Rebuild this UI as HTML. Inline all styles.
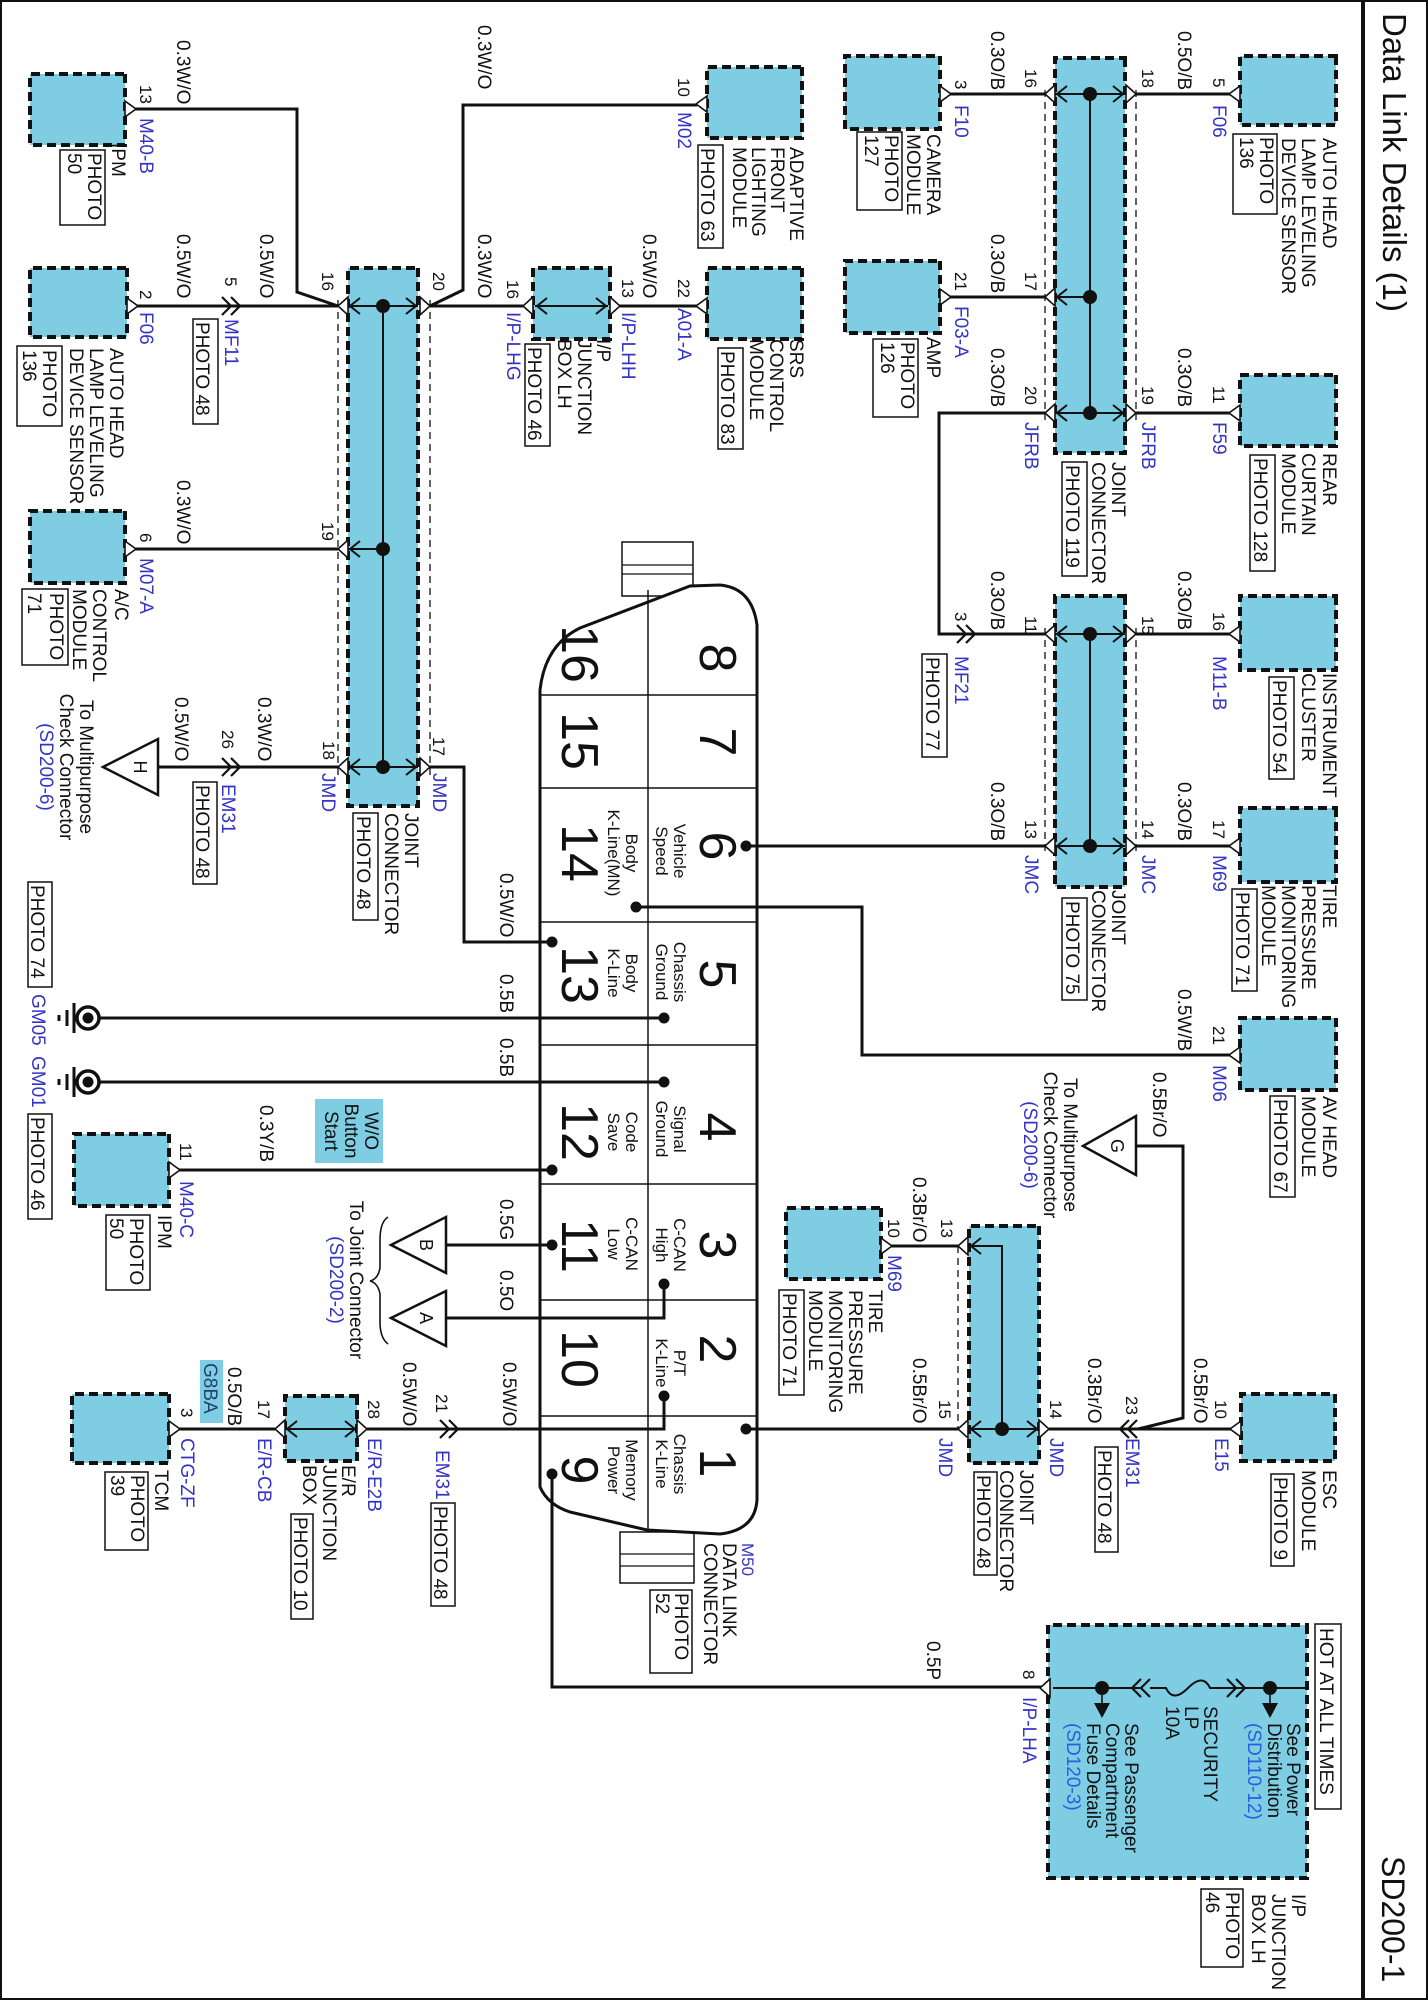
<!DOCTYPE html>
<html><head><meta charset="utf-8"><style>
html,body{margin:0;padding:0;background:#fff}
svg{display:block}
text{font-family:"Liberation Sans",Arial,sans-serif;font-size:19px;fill:#111}
.b{fill:#3434c4}
.lb{fill:#2a5de0}
.n{font-size:17px}
.d{font-size:52px;text-anchor:middle}
.c{font-size:17px;text-anchor:middle}
.m{text-anchor:middle}
.box{fill:#7fcde3;stroke:#111;stroke-width:4;stroke-dasharray:9,5}
.ph{fill:#fff;stroke:#111;stroke-width:1.5}
.w{fill:none;stroke:#111;stroke-width:3}
.t{fill:none;stroke:#111;stroke-width:1.6}
.dl{fill:none;stroke:#111;stroke-width:1.3;stroke-dasharray:7,5}
.pm{fill:#fff;stroke:#111;stroke-width:1.6}
</style></head><body>
<svg width="1428" height="2000" viewBox="0 0 1428 2000" xmlns="http://www.w3.org/2000/svg">
<rect x="1" y="1" width="1426" height="1998" fill="none" stroke="#111" stroke-width="2"/>
<line x1="1363" y1="0" x2="1363" y2="2000" stroke="#111" stroke-width="4"/>
<g transform="translate(1428,0) rotate(90)">
<text x="13" y="45" style="font-size:33px">Data Link Details (1)</text>
<text x="1856" y="46" style="font-size:32px">SD200-1</text>

<!-- data link connector (drawn first) -->
<rect x="542" y="735" width="54" height="71" fill="#fff" stroke="#111" stroke-width="1.5"/>
<line class="t" x1="565" y1="735" x2="565" y2="806" style="stroke-width:1.3"/><line class="t" x1="574" y1="735" x2="574" y2="806" style="stroke-width:1.3"/>
<rect x="1532" y="734" width="51" height="74" fill="#fff" stroke="#111" stroke-width="1.5"/>
<line class="t" x1="1554" y1="734" x2="1554" y2="808" style="stroke-width:1.3"/><line class="t" x1="1566" y1="734" x2="1566" y2="808" style="stroke-width:1.3"/>
<path d="M690,888 L1487,888 Q1505,880 1512,858 L1530,781 L1534,708 Q1530,673 1500,671 L625,671 Q588,676 585,708 L586,738 L628,848 Q645,883 690,888 Z" fill="#fff" stroke="#111" stroke-width="3"/>
<g class="t" style="stroke-width:1.5">
<line x1="590" y1="780" x2="1532" y2="780"/>
<line x1="695" y1="671" x2="695" y2="888"/><line x1="788" y1="671" x2="788" y2="888"/>
<line x1="922" y1="671" x2="922" y2="888"/><line x1="1045" y1="671" x2="1045" y2="888"/>
<line x1="1184" y1="671" x2="1184" y2="888"/><line x1="1300" y1="671" x2="1300" y2="888"/>
<line x1="1416" y1="671" x2="1416" y2="888"/>
</g>
<g>
<text class="d" x="658" y="728">8</text><text class="d" x="742" y="728">7</text><text class="d" x="846" y="728">6</text><text class="d" x="974" y="728">5</text>
<text class="d" x="1127" y="728">4</text><text class="d" x="1245" y="728">3</text><text class="d" x="1349" y="728">2</text><text class="d" x="1463" y="728">1</text>
<text class="d" x="654" y="866">16</text><text class="d" x="741" y="866">15</text><text class="d" x="853" y="866">14</text><text class="d" x="975" y="866">13</text>
<text class="d" x="1132" y="866">12</text><text class="d" x="1246" y="866">11</text><text class="d" x="1359" y="866">10</text><text class="d" x="1470" y="866">9</text>
<text class="c" x="851" y="754">Vehicle</text><text class="c" x="851" y="772">Speed</text>
<text class="c" x="972" y="754">Chassis</text><text class="c" x="972" y="772">Ground</text>
<text class="c" x="1129" y="754">Signal</text><text class="c" x="1129" y="772">Ground</text>
<text class="c" x="1245" y="754">C-CAN</text><text class="c" x="1245" y="772">High</text>
<text class="c" x="1363" y="754">P/T</text><text class="c" x="1363" y="772">K-Line</text>
<text class="c" x="1464" y="754">Chassis</text><text class="c" x="1464" y="772">K-Line</text>
<text class="c" x="853" y="802">Body</text><text class="c" x="853" y="820">K-Line(MN)</text>
<text class="c" x="973" y="802">Body</text><text class="c" x="973" y="820">K-Line</text>
<text class="c" x="1132" y="802">Code</text><text class="c" x="1132" y="820">Save</text>
<text class="c" x="1244" y="802">C-CAN</text><text class="c" x="1244" y="820">Low</text>
<text class="c" x="1470" y="802">Memory</text><text class="c" x="1470" y="820">Power</text>
</g>

<!-- module boxes -->
<rect class="box" x="74" y="1303" width="71" height="95"/>
<rect class="box" x="268" y="1301" width="69" height="97"/>
<rect class="box" x="511" y="1303" width="72" height="95"/>
<rect class="box" x="67" y="626" width="71" height="95"/>
<rect class="box" x="268" y="626" width="71" height="95"/>
<rect class="box" x="268" y="818" width="71" height="77"/>
<rect class="box" x="56" y="488" width="73" height="95"/>
<rect class="box" x="261" y="488" width="72" height="95"/>
<rect class="box" x="56" y="92" width="69" height="96"/>
<rect class="box" x="375" y="92" width="71" height="96"/>
<rect class="box" x="596" y="92" width="74" height="96"/>
<rect class="box" x="808" y="92" width="74" height="96"/>
<rect class="box" x="1018" y="92" width="72" height="96"/>
<rect class="box" x="1394" y="93" width="67" height="94"/>
<rect class="box" x="1208" y="547" width="71" height="95"/>
<rect class="box" x="1134" y="1259" width="72" height="95"/>
<rect class="box" x="1394" y="1259" width="69" height="97"/>
<rect class="box" x="1396" y="1071" width="65" height="72"/>
<rect class="box" x="1625" y="121" width="253" height="259"/>
<rect class="box" x="268" y="1010" width="538" height="70"/>
<rect class="box" x="58" y="303" width="395" height="70"/>
<rect class="box" x="596" y="303" width="291" height="70"/>
<rect class="box" x="1226" y="389" width="237" height="70"/>
<rect x="1099" y="1045" width="64" height="68" fill="#7fcde3"/>
<rect x="1360" y="1205" width="63" height="23" fill="#7fcde3"/>

<line class="dl" x1="300" y1="1090" x2="775" y2="1090"/>
<line class="dl" x1="300" y1="998" x2="775" y2="998"/>
<line class="dl" x1="90" y1="383" x2="420" y2="383"/>
<line class="dl" x1="90" y1="292" x2="420" y2="292"/>
<line class="dl" x1="628" y1="383" x2="852" y2="383"/>
<line class="dl" x1="628" y1="292" x2="852" y2="292"/>
<line class="dl" x1="1246" y1="470" x2="1429" y2="470"/>

<!-- wires -->
<polyline class="w" points="109,1293 109,1131 292,1131 306,1090"/>
<polyline class="w" points="306,1293 306,1090"/>
<polyline class="w" points="549,1293 549,1090"/>
<polyline class="w" points="306,998 290,965 105,965 105,731"/>
<polyline class="w" points="306,998 306,905"/>
<polyline class="w" points="306,808 306,731"/>
<polyline class="w" points="94,478 94,383"/>
<polyline class="w" points="297,478 297,383"/>
<polyline class="w" points="413,383 413,489 634,489 634,383"/>
<polyline class="w" points="94,292 94,198"/>
<polyline class="w" points="413,292 413,198"/>
<polyline class="w" points="634,292 634,198"/>
<polyline class="w" points="846,682 846,383"/>
<polyline class="w" points="846,292 846,198"/>
<polyline class="w" points="907,792 907,566 1055,566 1055,198"/>
<polyline class="w" points="1146,292 1146,245 1418,245 1429,290"/>
<polyline class="w" points="1429,197 1429,379"/>
<polyline class="w" points="1246,537 1246,470"/>
<polyline class="w" points="1429,682 1429,470"/>
<polyline class="w" points="767,998 767,964 942,964 942,876"/>
<polyline class="w" points="767,1270 767,1090"/>
<polyline class="w" points="1018,1340 1018,764"/>
<polyline class="w" points="1082,1340 1082,764"/>
<polyline class="w" points="1170,1249 1170,876"/>
<polyline class="w" points="1245,982 1245,876"/>
<polyline class="w" points="1318,982 1318,764 1284,764"/>
<polyline class="w" points="1396,764 1429,764 1429,1061"/>
<polyline class="w" points="1429,1153 1429,1249"/>
<polyline class="w" points="1474,876 1687,876 1687,385"/>

<g class="t" style="stroke-width:2">
<line x1="306" y1="1080" x2="306" y2="1010"/><line x1="549" y1="1080" x2="549" y2="1045"/><line x1="767" y1="1080" x2="767" y2="1010"/>
<line x1="306" y1="1045" x2="767" y2="1045"/>
<line x1="94" y1="373" x2="94" y2="303"/><line x1="297" y1="373" x2="297" y2="338"/><line x1="413" y1="373" x2="413" y2="303"/>
<line x1="94" y1="338" x2="413" y2="338"/>
<line x1="634" y1="373" x2="634" y2="303"/><line x1="846" y1="373" x2="846" y2="303"/>
<line x1="634" y1="338" x2="846" y2="338"/>
<polyline points="1246,459 1246,426 1429,426"/><line x1="1429" y1="459" x2="1429" y2="389"/>
<line x1="306" y1="893" x2="306" y2="820"/>
<line x1="1429" y1="1141" x2="1429" y2="1073"/>
<polyline points="298,1068 306,1078 314,1068"/><polyline points="298,1022 306,1012 314,1022"/>
<polyline points="541,1068 549,1078 557,1068"/>
<polyline points="759,1068 767,1078 775,1068"/><polyline points="759,1022 767,1012 775,1022"/>
<polyline points="86,361 94,371 102,361"/><polyline points="86,315 94,305 102,315"/>
<polyline points="289,361 297,371 305,361"/>
<polyline points="405,361 413,371 421,361"/><polyline points="405,315 413,305 421,315"/>
<polyline points="626,361 634,371 642,361"/><polyline points="626,315 634,305 642,315"/>
<polyline points="838,361 846,371 854,361"/><polyline points="838,315 846,305 854,315"/>
<polyline points="1238,447 1246,457 1254,447"/>
<polyline points="1421,447 1429,457 1437,447"/><polyline points="1421,401 1429,391 1437,401"/>
<polyline points="298,881 306,891 314,881"/><polyline points="298,832 306,822 314,832"/>
<polyline points="1421,1131 1429,1141 1437,1131"/><polyline points="1421,1083 1429,1073 1437,1083"/>
</g>

<g class="pm">
<polygon points="297,1080 306,1090 315,1080"/><polygon points="540,1080 549,1090 558,1080"/><polygon points="758,1080 767,1090 776,1080"/>
<polygon points="297,1008 306,998 315,1008"/><polygon points="758,1008 767,998 776,1008"/>
<polygon points="85,373 94,383 103,373"/><polygon points="288,373 297,383 306,373"/><polygon points="404,373 413,383 422,373"/>
<polygon points="85,302 94,292 103,302"/><polygon points="404,302 413,292 422,302"/>
<polygon points="625,373 634,383 643,373"/><polygon points="837,373 846,383 855,373"/>
<polygon points="625,302 634,292 643,302"/><polygon points="837,302 846,292 855,302"/>
<polygon points="1237,460 1246,470 1255,460"/><polygon points="1420,460 1429,470 1438,460"/>
<polygon points="1420,389 1429,379 1438,389"/>
<polygon points="297,895 306,905 315,895"/><polygon points="297,818 306,808 315,818"/>
<polygon points="1420,1143 1429,1153 1438,1143"/><polygon points="1420,1071 1429,1061 1438,1071"/>
<polygon points="1679,378 1688,388 1697,378"/>
<polygon points="101,1303 109,1292 117,1303"/>
<polygon points="298,1301 306,1290 314,1301"/>
<polygon points="541,1303 549,1292 557,1303"/>
<polygon points="96,721 104,732 112,721"/>
<polygon points="298,721 306,732 314,721"/>
<polygon points="86,488 94,477 102,488"/>
<polygon points="289,488 297,477 305,488"/>
<polygon points="86,188 94,199 102,188"/>
<polygon points="405,188 413,199 421,188"/>
<polygon points="626,188 634,199 642,188"/>
<polygon points="838,188 846,199 854,188"/>
<polygon points="1047,188 1055,199 1063,188"/>
<polygon points="1421,187 1429,198 1437,187"/>
<polygon points="1238,547 1246,536 1254,547"/>
<polygon points="1162,1259 1170,1248 1178,1259"/>
<polygon points="1421,1259 1429,1248 1437,1259"/>
</g>

<g class="t" style="stroke-width:2.2">
<polyline points="297,1206 306,1197 315,1206"/><polyline points="297,1197 306,1188 315,1197"/>
<polyline points="758,1206 767,1197 776,1206"/><polyline points="758,1197 767,1188 776,1197"/>
<polyline points="625,471 634,462 643,471"/><polyline points="625,462 634,453 643,462"/>
<polyline points="1420,988 1429,979 1438,988"/><polyline points="1420,979 1429,970 1438,979"/>
<polyline points="1420,299 1429,308 1438,299"/><polyline points="1420,291 1429,300 1438,291"/>
<polyline points="1679,287 1688,296 1697,287"/><polyline points="1679,278 1688,287 1697,278"/>
<polyline points="1679,192 1688,183 1697,192"/><polyline points="1679,201 1688,192 1697,201"/>
</g>
<polyline class="t" style="stroke-width:2" points="1688,375 1688,287"/>
<polyline class="t" style="stroke-width:2" points="1688,192 1688,121"/>
<path class="t" style="stroke-width:2" d="M1688,278 L1688,262 Q1703,255 1688,240 Q1673,225 1688,218 L1688,192"/>
<line class="t" x1="1688" y1="326" x2="1706" y2="326"/><line class="t" x1="1688" y1="158" x2="1706" y2="158"/>
<polygon points="1718,326 1703,318 1703,334" fill="#111"/>
<polygon points="1718,158 1703,150 1703,166" fill="#111"/>

<g fill="#111">
<circle cx="907" cy="792" r="5.5"/><circle cx="942" cy="876" r="5.5"/><circle cx="1018" cy="764" r="5.5"/><circle cx="1082" cy="764" r="5.5"/>
<circle cx="1170" cy="876" r="5.5"/><circle cx="1245" cy="876" r="5.5"/><circle cx="1284" cy="764" r="5.5"/><circle cx="1396" cy="764" r="5.5"/>
<circle cx="1474" cy="876" r="5.5"/><circle cx="846" cy="682" r="5.5"/><circle cx="1429" cy="682" r="5.5"/>
<circle cx="306" cy="1045" r="7"/><circle cx="549" cy="1045" r="7"/><circle cx="767" cy="1045" r="7"/>
<circle cx="94" cy="338" r="7"/><circle cx="297" cy="338" r="7"/><circle cx="413" cy="338" r="7"/>
<circle cx="634" cy="338" r="7"/><circle cx="846" cy="338" r="7"/><circle cx="1429" cy="426" r="7"/>
<circle cx="1688" cy="326" r="7"/><circle cx="1688" cy="158" r="7"/>
</g>

<g fill="#fff" stroke="#111" stroke-width="2.5">
<polygon points="767,1325 739,1270 795,1270"/>
<polygon points="1245,1037 1217,982 1273,982"/>
<polygon points="1318,1037 1291,982 1346,982"/>
<polygon points="1146,345 1116,292 1175,292"/>
</g>
<text class="m" x="767" y="1294" style="font-size:18px">H</text>
<text class="m" x="1245" y="1008" style="font-size:18px">B</text>
<text class="m" x="1318" y="1008" style="font-size:18px">A</text>
<text class="m" x="1146" y="317" style="font-size:18px">G</text>
<path class="t" style="stroke-width:1.6" d="M1217,1040 Q1222,1048 1240,1048 L1268,1048 Q1279,1050 1281,1058 Q1283,1050 1294,1048 L1322,1048 Q1338,1048 1344,1040"/>

<g>
<circle cx="1018" cy="1340" r="11" fill="#fff" stroke="#111" stroke-width="3.5"/><circle cx="1018" cy="1340" r="5.5" fill="#111"/>
<line class="w" x1="1018" y1="1351" x2="1018" y2="1354"/>
<line class="w" x1="1003" y1="1354" x2="1033" y2="1354"/><line class="w" x1="1010" y1="1361" x2="1026" y2="1361"/><line class="w" x1="1015" y1="1369" x2="1021" y2="1369"/>
<circle cx="1082" cy="1340" r="11" fill="#fff" stroke="#111" stroke-width="3.5"/><circle cx="1082" cy="1340" r="5.5" fill="#111"/>
<line class="w" x1="1082" y1="1351" x2="1082" y2="1354"/>
<line class="w" x1="1067" y1="1354" x2="1097" y2="1354"/><line class="w" x1="1074" y1="1361" x2="1090" y2="1361"/><line class="w" x1="1079" y1="1369" x2="1085" y2="1369"/>
</g>

<g class="ph">
<rect x="150" y="1323" width="75" height="45"/>
<rect x="319" y="1210" width="105" height="25"/>
<rect x="346" y="1366" width="80" height="45"/>
<rect x="589" y="1360" width="76" height="46"/>
<rect x="145" y="705" width="103" height="25"/>
<rect x="348" y="685" width="101" height="25"/>
<rect x="344" y="878" width="102" height="25"/>
<rect x="132" y="526" width="78" height="45"/>
<rect x="339" y="510" width="78" height="45"/>
<rect x="134" y="151" width="80" height="44"/>
<rect x="455" y="153" width="116" height="25"/>
<rect x="462" y="341" width="114" height="25"/>
<rect x="654" y="481" width="103" height="25"/>
<rect x="677" y="134" width="102" height="25"/>
<rect x="889" y="171" width="102" height="25"/>
<rect x="898" y="341" width="102" height="25"/>
<rect x="1096" y="133" width="101" height="25"/>
<rect x="1290" y="624" width="105" height="25"/>
<rect x="1447" y="310" width="105" height="23"/>
<rect x="1474" y="134" width="92" height="23"/>
<rect x="1472" y="431" width="103" height="23"/>
<rect x="1624" y="87" width="185" height="26"/>
<rect x="1889" y="185" width="78" height="42"/>
<rect x="1590" y="736" width="83" height="42"/>
<rect x="782" y="1211" width="102" height="24"/>
<rect x="813" y="1050" width="107" height="25"/>
<rect x="882" y="1376" width="105" height="24"/>
<rect x="1114" y="1376" width="105" height="24"/>
<rect x="1215" y="1278" width="75" height="44"/>
<rect x="1503" y="973" width="103" height="24"/>
<rect x="1514" y="1115" width="105" height="22"/>
<rect x="1472" y="1280" width="78" height="43"/>
</g>

<text x="40" y="1251">0.3W/O</text>
<text class="n" x="85" y="1288">13</text><text class="b" x="118" y="1288">M40-B</text>
<text x="143" y="1316">IPM</text>
<text x="153" y="1340">PHOTO</text><text x="153" y="1360">50</text>
<text x="234" y="1251">0.5W/O</text><text x="234" y="1168">0.5W/O</text>
<text class="n" x="290" y="1288">2</text><text class="b" x="312" y="1288">F06</text>
<text class="n" x="277" y="1203">5</text><text class="b" x="319" y="1203">MF11</text>
<text x="322" y="1232">PHOTO 48</text>
<text class="n" x="272" y="1106">16</text><text class="n" x="272" y="995">20</text>
<text x="348" y="1318">AUTO HEAD</text><text x="348" y="1338">LAMP LEVELING</text><text x="348" y="1358">DEVICE SENSOR</text>
<text x="350" y="1385">PHOTO</text><text x="350" y="1405">136</text>
<text x="480" y="1251">0.3W/O</text>
<text class="n" x="533" y="1288">6</text><text class="b" x="558" y="1288">M07-A</text>
<text class="n" x="522" y="1106">19</text>
<text x="589" y="1313">A/C</text><text x="589" y="1335">CONTROL</text><text x="589" y="1355">MODULE</text>
<text x="593" y="1378">PHOTO</text><text x="593" y="1400">71</text>

<text x="25" y="950">0.3W/O</text><text x="234" y="950">0.3W/O</text>
<text class="n" x="78" y="750">10</text><text class="b" x="112" y="750">M02</text>
<text x="147" y="638">ADAPTIVE</text><text x="147" y="657">FRONT</text><text x="147" y="676">LIGHTING</text><text x="147" y="695">MODULE</text>
<text x="148" y="727">PHOTO 63</text>
<text class="n" x="279" y="750">22</text><text class="b" x="308" y="750">A01-A</text>
<text x="234" y="785">0.5W/O</text>
<text x="339" y="638">SRS</text><text x="339" y="658">CONTROL</text><text x="339" y="678">MODULE</text>
<text x="351" y="707">PHOTO 83</text>
<text class="n" x="279" y="806">13</text><text class="b" x="312" y="806">I/P-LHH</text>
<text class="n" x="280" y="921">16</text><text class="b" x="312" y="921">I/P-LHG</text>
<text x="339" y="831">I/P</text><text x="339" y="850">JUNCTION</text><text x="339" y="870">BOX LH</text>
<text x="347" y="900">PHOTO 46</text>

<text class="n" x="80" y="473">3</text><text class="b" x="105" y="473">F10</text>
<text x="31" y="437">0.3O/B</text><text class="n" x="69" y="403">16</text>
<text x="134" y="501">CAMERA</text><text x="134" y="521">MODULE</text>
<text x="135" y="543">PHOTO</text><text x="135" y="563">127</text>
<text class="n" x="272" y="473">21</text><text class="b" x="306" y="473">F03-A</text>
<text x="234" y="437">0.3O/B</text><text class="n" x="272" y="403">17</text>
<text x="337" y="501">AMP</text>
<text x="342" y="527">PHOTO</text><text x="342" y="547">126</text>
<text x="348" y="437">0.3O/B</text><text class="n" x="386" y="403">20</text><text class="b" x="422" y="403">JFRB</text>
<text class="n" x="69" y="286">18</text><text x="31" y="250">0.5O/B</text>
<text class="n" x="78" y="215">5</text><text class="b" x="105" y="215">F06</text>
<text x="138" y="105">AUTO HEAD</text><text x="138" y="126">LAMP LEVELING</text><text x="138" y="146">DEVICE SENSOR</text>
<text x="137" y="168">PHOTO</text><text x="137" y="188">136</text>
<text class="n" x="386" y="286">19</text><text class="b" x="422" y="286">JFRB</text>
<text x="348" y="250">0.3O/B</text>
<text class="n" x="386" y="215">11</text><text class="b" x="422" y="215">F59</text>
<text x="453" y="105">REAR</text><text x="453" y="126">CURTAIN</text><text x="453" y="146">MODULE</text>
<text x="458" y="174">PHOTO 128</text>
<text x="462" y="316">JOINT</text><text x="462" y="336">CONNECTOR</text>
<text x="465" y="362">PHOTO 119</text>
<text class="n" x="616" y="403">11</text><text x="571" y="437">0.3O/B</text>
<text class="n" x="612" y="473">3</text><text class="b" x="656" y="473">MF21</text>
<text x="657" y="502">PHOTO 77</text>
<text class="n" x="616" y="286">15</text><text x="571" y="250">0.3O/B</text>
<text class="n" x="612" y="215">16</text><text class="b" x="656" y="215">M11-B</text>
<text x="673" y="105">INSTRUMENT</text><text x="673" y="126">CLUSTER</text>
<text x="680" y="155">PHOTO 54</text>
<text class="n" x="820" y="403">13</text><text class="b" x="855" y="403">JMC</text><text x="782" y="437">0.3O/B</text>
<text class="n" x="820" y="286">14</text><text class="b" x="855" y="286">JMC</text><text x="782" y="250">0.3O/B</text>
<text class="n" x="820" y="215">17</text><text class="b" x="855" y="215">M69</text>
<text x="885" y="105">TIRE</text><text x="885" y="126">PRESSURE</text><text x="885" y="146">MONITORING</text><text x="885" y="166">MODULE</text>
<text x="892" y="192">PHOTO 71</text>
<text x="890" y="316">JOINT</text><text x="890" y="336">CONNECTOR</text>
<text x="901" y="362">PHOTO 75</text>
<text x="989" y="250">0.5W/B</text>
<text class="n" x="1026" y="215">21</text><text class="b" x="1065" y="215">M06</text>
<text x="1096" y="105">AV HEAD</text><text x="1096" y="126">MODULE</text>
<text x="1099" y="154">PHOTO 67</text>
<text x="1072" y="275">0.5Br/O</text>
<text class="m" x="1145" y="364">To Multipurpose</text><text class="m" x="1145" y="384">Check Connector</text><text class="m b" x="1145" y="404">(SD200-6)</text>
<text x="1177" y="515">0.3Br/O</text>
<text class="n" x="1219" y="540">10</text><text class="b" x="1255" y="540">M69</text>
<text class="n" x="1219" y="487">13</text>
<text x="1290" y="559">TIRE</text><text x="1290" y="579">PRESSURE</text><text x="1290" y="599">MONITORING</text><text x="1290" y="619">MODULE</text>
<text x="1293" y="645">PHOTO 71</text>
<text x="1358" y="515">0.5Br/O</text>
<text class="n" x="1400" y="489">15</text><text class="b" x="1438" y="489">JMD</text>
<text class="n" x="1400" y="378">14</text><text class="b" x="1438" y="378">JMD</text>
<text x="1358" y="340">0.3Br/O</text>
<text class="n" x="1396" y="302">23</text><text class="b" x="1438" y="302">EM31</text>
<text x="1450" y="330">PHOTO 48</text>
<text x="1358" y="234">0.5Br/O</text>
<text class="n" x="1400" y="213">10</text><text class="b" x="1438" y="213">E15</text>
<text x="1470" y="105">ESC</text><text x="1470" y="126">MODULE</text>
<text x="1477" y="154">PHOTO 9</text>
<text x="1470" y="408">JOINT</text><text x="1470" y="428">CONNECTOR</text>
<text x="1475" y="451">PHOTO 48</text>
<text x="1628" y="108">HOT AT ALL TIMES</text>
<text x="1641" y="501">0.5P</text>
<text class="n" x="1670" y="405">8</text><text class="b" x="1697" y="405">I/P-LHA</text>
<text x="1723" y="141">See Power</text><text x="1723" y="160">Distribution</text><text class="lb" x="1723" y="180">(SD110-12)</text>
<text x="1706" y="224">SECURITY</text><text x="1706" y="243">LP</text><text x="1706" y="262">10A</text>
<text x="1723" y="303">See Passenger</text><text x="1723" y="322">Compartment</text><text x="1723" y="341">Fuse Details</text><text class="lb" x="1723" y="361">(SD120-3)</text>
<text x="1894" y="136">I/P</text><text x="1894" y="156">JUNCTION</text><text x="1894" y="176">BOX LH</text>
<text x="1892" y="202">PHOTO</text><text x="1892" y="222">46</text>
<text class="b" x="1543" y="686" style="font-size:17px">M50</text><text x="1543" y="705">DATA LINK</text><text x="1543" y="724">CONNECTOR</text>
<text x="1593" y="753">PHOTO</text><text x="1593" y="772">52</text>

<text x="697" y="1170">0.3W/O</text><text x="697" y="1253">0.5W/O</text>
<text class="n" x="730" y="1206">26</text><text class="b" x="784" y="1206">EM31</text>
<text x="785" y="1232">PHOTO 48</text>
<text class="n" x="741" y="1105">18</text><text class="b" x="773" y="1106">JMD</text>
<text class="n" x="737" y="995">17</text><text class="b" x="773" y="995">JMD</text>
<text x="813" y="1023">JOINT</text><text x="813" y="1043">CONNECTOR</text>
<text x="816" y="1071">PHOTO 48</text>
<text class="m" x="767" y="1348">To Multipurpose</text><text class="m" x="767" y="1368">Check Connector</text><text class="m b" x="767" y="1388">(SD200-6)</text>
<text x="873" y="928">0.5W/O</text>
<text x="974" y="928">0.5B</text><text x="1038" y="928">0.5B</text>
<text class="b" x="994" y="1396">GM05</text><text class="b" x="1056" y="1396">GM01</text>
<text x="885" y="1397">PHOTO 74</text><text x="1117" y="1397">PHOTO 46</text>
<text x="1105" y="1168">0.3Y/B</text>
<text class="m" x="1131" y="1063">W/O</text><text class="m" x="1131" y="1083">Button</text><text class="m" x="1131" y="1103">Start</text>
<text class="n" x="1143" y="1248">11</text><text class="b" x="1181" y="1248">M40-C</text>
<text x="1215" y="1270">IPM</text>
<text x="1218" y="1298">PHOTO</text><text x="1218" y="1318">50</text>
<text x="1199" y="928">0.5G</text><text x="1270" y="928">0.5O</text>
<text class="m" x="1280" y="1078">To Joint Connector</text><text class="m b" x="1280" y="1098">(SD200-2)</text>

<text class="n" x="1394" y="992">21</text><text class="b" x="1450" y="992">EM31</text>
<text x="1506" y="994">PHOTO 48</text>
<text x="1362" y="925">0.5W/O</text><text x="1362" y="1025">0.5W/O</text>
<text class="n" x="1400" y="1060">28</text><text class="b" x="1438" y="1060">E/R-E2B</text>
<text class="n" x="1400" y="1170">17</text><text class="b" x="1438" y="1170">E/R-CB</text>
<text x="1465" y="1086">E/R</text><text x="1465" y="1105">JUNCTION</text><text x="1465" y="1125">BOX</text>
<text x="1517" y="1134">PHOTO 10</text>
<text class="n" x="1408" y="1247">3</text><text class="b" x="1438" y="1247">CTG-ZF</text>
<text x="1367" y="1200">0.5O/B</text>
<text x="1363" y="1224" style="fill:#23406e">G8BA</text>
<text x="1470" y="1273">TCM</text>
<text x="1475" y="1297">PHOTO</text><text x="1475" y="1317">39</text>
</g>
</svg>
</body></html>
